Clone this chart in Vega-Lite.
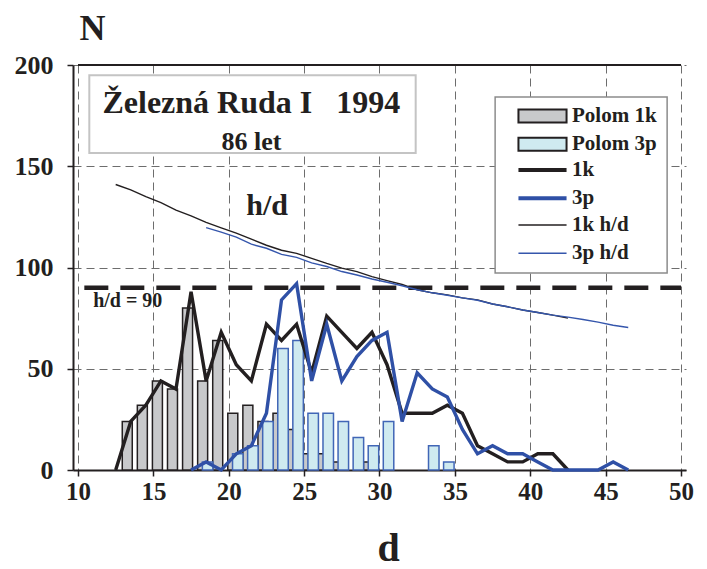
{
  "$schema": "https://vega.github.io/schema/vega-lite/v6.json",
  "width": 613,
  "height": 405,
  "autosize": {"type": "none"},
  "padding": {"left": 73, "top": 65, "right": 21, "bottom": 99},
  "background": "white",
  "config": {
    "font": "Liberation Serif",
    "view": {"stroke": null},
    "axis": {
      "grid": true,
      "gridColor": "#6d6d6d",
      "gridDash": [8, 5],
      "gridWidth": 1,
      "domainColor": "#231f20",
      "domainWidth": 2,
      "tickColor": "#231f20",
      "tickWidth": 1.5,
      "tickSize": 6,
      "labelFont": "Liberation Serif",
      "labelFontWeight": "bold",
      "labelColor": "#231f20",
      "titleFont": "Liberation Serif",
      "titleFontWeight": "bold",
      "titleColor": "#231f20"
    },
    "legend": {
      "orient": "none",
      "padding": 0,
      "symbolSize": 169,
      "symbolOffset": 21,
      "labelOffset": 19,
      "rowPadding": 6.3,
      "labelFont": "Liberation Serif",
      "labelFontWeight": "bold",
      "labelFontSize": 21,
      "labelColor": "#231f20",
      "symbolOpacity": 1
    }
  },
  "resolve": {"scale": {"stroke": "independent"}},
  "datasets": {
    "rows": [
      {"d": 12.5, "series": "1k", "N": 0},
      {"d": 13.5, "series": "1k", "N": 24},
      {"d": 14.5, "series": "1k", "N": 32},
      {"d": 15.5, "series": "1k", "N": 44},
      {"d": 16.5, "series": "1k", "N": 40},
      {"d": 17.5, "series": "1k", "N": 88},
      {"d": 18.5, "series": "1k", "N": 44},
      {"d": 19.5, "series": "1k", "N": 68},
      {"d": 20.5, "series": "1k", "N": 52},
      {"d": 21.5, "series": "1k", "N": 44},
      {"d": 22.5, "series": "1k", "N": 72},
      {"d": 23.5, "series": "1k", "N": 64},
      {"d": 24.5, "series": "1k", "N": 72},
      {"d": 25.5, "series": "1k", "N": 48},
      {"d": 26.5, "series": "1k", "N": 76},
      {"d": 27.5, "series": "1k", "N": 68},
      {"d": 28.5, "series": "1k", "N": 60},
      {"d": 29.5, "series": "1k", "N": 68},
      {"d": 30.5, "series": "1k", "N": 52},
      {"d": 31.5, "series": "1k", "N": 28},
      {"d": 32.5, "series": "1k", "N": 28},
      {"d": 33.5, "series": "1k", "N": 28},
      {"d": 34.5, "series": "1k", "N": 32},
      {"d": 35.5, "series": "1k", "N": 28},
      {"d": 36.5, "series": "1k", "N": 12},
      {"d": 37.5, "series": "1k", "N": 8},
      {"d": 38.5, "series": "1k", "N": 4},
      {"d": 39.5, "series": "1k", "N": 4},
      {"d": 40.5, "series": "1k", "N": 8},
      {"d": 41.5, "series": "1k", "N": 8},
      {"d": 42.5, "series": "1k", "N": 0},
      {"d": 17.5, "series": "3p", "N": 0},
      {"d": 18.5, "series": "3p", "N": 4},
      {"d": 19.5, "series": "3p", "N": 0},
      {"d": 20.5, "series": "3p", "N": 8},
      {"d": 21.5, "series": "3p", "N": 12},
      {"d": 22.5, "series": "3p", "N": 28},
      {"d": 23.5, "series": "3p", "N": 84},
      {"d": 24.5, "series": "3p", "N": 92},
      {"d": 25.5, "series": "3p", "N": 44},
      {"d": 26.5, "series": "3p", "N": 72},
      {"d": 27.5, "series": "3p", "N": 44},
      {"d": 28.5, "series": "3p", "N": 56},
      {"d": 29.5, "series": "3p", "N": 64},
      {"d": 30.5, "series": "3p", "N": 68},
      {"d": 31.5, "series": "3p", "N": 24},
      {"d": 32.5, "series": "3p", "N": 48},
      {"d": 33.5, "series": "3p", "N": 40},
      {"d": 34.5, "series": "3p", "N": 36},
      {"d": 35.5, "series": "3p", "N": 20},
      {"d": 36.5, "series": "3p", "N": 8},
      {"d": 37.5, "series": "3p", "N": 12},
      {"d": 38.5, "series": "3p", "N": 8},
      {"d": 39.5, "series": "3p", "N": 8},
      {"d": 40.5, "series": "3p", "N": 4},
      {"d": 41.5, "series": "3p", "N": 0},
      {"d": 42.5, "series": "3p", "N": 0},
      {"d": 43.5, "series": "3p", "N": 0},
      {"d": 44.5, "series": "3p", "N": 0},
      {"d": 45.5, "series": "3p", "N": 4},
      {"d": 46.5, "series": "3p", "N": 0},
      {"d": 13.5, "series": "Polom 1k", "N": 24},
      {"d": 14.5, "series": "Polom 1k", "N": 32},
      {"d": 15.5, "series": "Polom 1k", "N": 44},
      {"d": 16.5, "series": "Polom 1k", "N": 40},
      {"d": 17.5, "series": "Polom 1k", "N": 80},
      {"d": 18.5, "series": "Polom 1k", "N": 44},
      {"d": 19.5, "series": "Polom 1k", "N": 64},
      {"d": 20.5, "series": "Polom 1k", "N": 28},
      {"d": 21.5, "series": "Polom 1k", "N": 32},
      {"d": 22.5, "series": "Polom 1k", "N": 24},
      {"d": 23.5, "series": "Polom 1k", "N": 28},
      {"d": 24.5, "series": "Polom 1k", "N": 20},
      {"d": 25.5, "series": "Polom 1k", "N": 8},
      {"d": 26.5, "series": "Polom 1k", "N": 8},
      {"d": 27.5, "series": "Polom 1k", "N": 4},
      {"d": 29.5, "series": "Polom 1k", "N": 4},
      {"d": 18.5, "series": "Polom 3p", "N": 4},
      {"d": 20.5, "series": "Polom 3p", "N": 8},
      {"d": 21.5, "series": "Polom 3p", "N": 12},
      {"d": 22.5, "series": "Polom 3p", "N": 24},
      {"d": 23.5, "series": "Polom 3p", "N": 60},
      {"d": 24.5, "series": "Polom 3p", "N": 64},
      {"d": 25.5, "series": "Polom 3p", "N": 28},
      {"d": 26.5, "series": "Polom 3p", "N": 28},
      {"d": 27.5, "series": "Polom 3p", "N": 24},
      {"d": 28.5, "series": "Polom 3p", "N": 16},
      {"d": 29.5, "series": "Polom 3p", "N": 12},
      {"d": 30.5, "series": "Polom 3p", "N": 24},
      {"d": 33.5, "series": "Polom 3p", "N": 12},
      {"d": 34.5, "series": "Polom 3p", "N": 4},
      {"d": 12.5, "series": "1k h/d", "N": 141},
      {"d": 13.5, "series": "1k h/d", "N": 138.3},
      {"d": 14.5, "series": "1k h/d", "N": 135},
      {"d": 15.5, "series": "1k h/d", "N": 132},
      {"d": 16.5, "series": "1k h/d", "N": 128.3},
      {"d": 17.5, "series": "1k h/d", "N": 125.5},
      {"d": 18.5, "series": "1k h/d", "N": 122.3},
      {"d": 19.5, "series": "1k h/d", "N": 119.6},
      {"d": 20.5, "series": "1k h/d", "N": 117},
      {"d": 21.5, "series": "1k h/d", "N": 114},
      {"d": 22.5, "series": "1k h/d", "N": 111},
      {"d": 23.5, "series": "1k h/d", "N": 108.5},
      {"d": 24.5, "series": "1k h/d", "N": 107},
      {"d": 25.5, "series": "1k h/d", "N": 104.5},
      {"d": 26.5, "series": "1k h/d", "N": 102},
      {"d": 27.5, "series": "1k h/d", "N": 99.7},
      {"d": 28.5, "series": "1k h/d", "N": 98},
      {"d": 29.5, "series": "1k h/d", "N": 95.5},
      {"d": 30.5, "series": "1k h/d", "N": 93.5},
      {"d": 31.5, "series": "1k h/d", "N": 91.6},
      {"d": 32.5, "series": "1k h/d", "N": 89},
      {"d": 33.5, "series": "1k h/d", "N": 87.5},
      {"d": 34.5, "series": "1k h/d", "N": 86.5},
      {"d": 35.5, "series": "1k h/d", "N": 85},
      {"d": 36.5, "series": "1k h/d", "N": 84},
      {"d": 37.5, "series": "1k h/d", "N": 82},
      {"d": 38.5, "series": "1k h/d", "N": 80.6},
      {"d": 39.5, "series": "1k h/d", "N": 79},
      {"d": 40.5, "series": "1k h/d", "N": 77.8},
      {"d": 41.5, "series": "1k h/d", "N": 76.5},
      {"d": 42.5, "series": "1k h/d", "N": 75},
      {"d": 18.5, "series": "3p h/d", "N": 119.7},
      {"d": 19.5, "series": "3p h/d", "N": 117.5},
      {"d": 20.5, "series": "3p h/d", "N": 115},
      {"d": 21.5, "series": "3p h/d", "N": 111.5},
      {"d": 22.5, "series": "3p h/d", "N": 109.5},
      {"d": 23.5, "series": "3p h/d", "N": 106.5},
      {"d": 24.5, "series": "3p h/d", "N": 105},
      {"d": 25.5, "series": "3p h/d", "N": 102.3},
      {"d": 26.5, "series": "3p h/d", "N": 100.5},
      {"d": 27.5, "series": "3p h/d", "N": 98},
      {"d": 28.5, "series": "3p h/d", "N": 96.3},
      {"d": 29.5, "series": "3p h/d", "N": 94.3},
      {"d": 30.5, "series": "3p h/d", "N": 92.7},
      {"d": 31.5, "series": "3p h/d", "N": 91},
      {"d": 32.5, "series": "3p h/d", "N": 89},
      {"d": 33.5, "series": "3p h/d", "N": 87.5},
      {"d": 34.5, "series": "3p h/d", "N": 86.3},
      {"d": 35.5, "series": "3p h/d", "N": 85},
      {"d": 36.5, "series": "3p h/d", "N": 83.8},
      {"d": 37.5, "series": "3p h/d", "N": 82},
      {"d": 38.5, "series": "3p h/d", "N": 80.6},
      {"d": 39.5, "series": "3p h/d", "N": 79},
      {"d": 40.5, "series": "3p h/d", "N": 77.8},
      {"d": 41.5, "series": "3p h/d", "N": 76.5},
      {"d": 42.5, "series": "3p h/d", "N": 75.5},
      {"d": 43.5, "series": "3p h/d", "N": 74.3},
      {"d": 44.5, "series": "3p h/d", "N": 73},
      {"d": 45.5, "series": "3p h/d", "N": 71.5},
      {"d": 46.5, "series": "3p h/d", "N": 70.4}
    ]
  },
  "data": {"name": "rows"},
  "layer": [
    {
      "data": {"values": [{}]},
      "mark": {"type": "rect", "fill": "white", "stroke": "#c4c4c4", "strokeWidth": 2},
      "encoding": {
        "x": {"datum": 10.75, "type": "quantitative", "scale": {"domain": [10, 50], "nice": false, "zero": false},
          "axis": {"values": [10, 15, 20, 25, 30, 35, 40, 45, 50], "labelFontSize": 25, "labelPadding": 3, "title": "d", "titleFontSize": 40, "titleX": 315, "titleY": 78, "titleBaseline": "middle", "titleAlign": "center"}},
        "x2": {"datum": 32.4},
        "y": {"datum": 195, "type": "quantitative", "scale": {"domain": [0, 200], "nice": false, "zero": true},
          "axis": {"values": [0, 50, 100, 150, 200], "labelFontSize": 26, "labelPadding": 14, "title": "N", "titleAngle": 0, "titleFontSize": 36, "titleX": 19, "titleY": -37, "titleBaseline": "middle", "titleAlign": "center"}},
        "y2": {"datum": 156.5}
      }
    },
    {
      "data": {"values": [{}]},
      "mark": {"type": "rect", "fill": "white", "stroke": "#8c8c8c", "strokeWidth": 1.5},
      "encoding": {
        "x": {"datum": 37.67, "type": "quantitative"},
        "x2": {"datum": 49.08},
        "y": {"datum": 184.2, "type": "quantitative"},
        "y2": {"datum": 97.3}
      }
    },
    {
      "layer": [
        {
          "transform": [{"filter": "datum.series == 'Polom 1k'"}],
          "mark": {"type": "bar", "width": 10, "xOffset": -3.5, "strokeWidth": 1.5},
          "encoding": {
            "x": {"field": "d", "type": "quantitative"},
            "y": {"field": "N", "type": "quantitative"},
            "fill": {"field": "series", "type": "nominal",
              "scale": {"domain": ["Polom 1k", "Polom 3p"], "range": ["#c8c9cb", "#cfeaf0"]},
              "legend": {"title": null, "legendX": 438, "legendY": 40.5, "symbolType": "M-3.7,-1H3.7V1H-3.7Z", "symbolStrokeWidth": 2, "symbolStrokeColor": "#231f20"}},
            "stroke": {"field": "series", "type": "nominal",
              "scale": {"domain": ["Polom 1k", "Polom 3p"], "range": ["#231f20", "#4166b6"]},
              "legend": null}
          }
        },
        {
          "transform": [{"filter": "datum.series == 'Polom 3p'"}],
          "mark": {"type": "bar", "width": 10.5, "xOffset": 1.5, "strokeWidth": 1.5},
          "encoding": {
            "x": {"field": "d", "type": "quantitative"},
            "y": {"field": "N", "type": "quantitative"},
            "fill": {"field": "series", "type": "nominal"},
            "stroke": {"field": "series", "type": "nominal", "legend": null}
          }
        }
      ]
    },
    {
      "data": {"values": [{}]},
      "mark": {"type": "rule", "strokeWidth": 4.5, "strokeDash": [24, 12], "color": "#231f20"},
      "encoding": {
        "x": {"datum": 10.42, "type": "quantitative"},
        "x2": {"datum": 50},
        "y": {"datum": 90, "type": "quantitative"}
      }
    },
    {
      "transform": [{"filter": "datum.series == '1k' || datum.series == '3p'"}],
      "mark": {"type": "line", "strokeWidth": 3.4},
      "encoding": {
        "x": {"field": "d", "type": "quantitative"},
        "y": {"field": "N", "type": "quantitative"},
        "stroke": {"field": "series", "type": "nominal",
          "scale": {"domain": ["1k", "3p"], "range": ["#231f20", "#2f50a6"]},
          "legend": {"title": null, "legendX": 438, "legendY": 94.5, "symbolType": "M-3.7,0H3.7", "symbolStrokeWidth": 4}}
      }
    },
    {
      "transform": [{"filter": "datum.series == '1k h/d' || datum.series == '3p h/d'"}],
      "mark": {"type": "line", "strokeWidth": 1.4},
      "encoding": {
        "x": {"field": "d", "type": "quantitative"},
        "y": {"field": "N", "type": "quantitative"},
        "stroke": {"field": "series", "type": "nominal",
          "scale": {"domain": ["1k h/d", "3p h/d"], "range": ["#231f20", "#3556ac"]},
          "legend": {"title": null, "legendX": 438, "legendY": 149.5, "symbolType": "M-3.7,0H3.7", "symbolStrokeWidth": 1.5}}
      }
    },
    {
      "data": {"values": [{}]},
      "mark": {"type": "rule", "strokeWidth": 2, "color": "#231f20"},
      "encoding": {
        "x": {"datum": 10, "type": "quantitative"},
        "x2": {"datum": 50},
        "y": {"datum": 200, "type": "quantitative"}
      }
    },
    {
      "data": {"values": [{}]},
      "mark": {"type": "text", "text": "Železná Ruda I\u00a0\u00a0\u00a01994", "font": "Liberation Serif", "fontWeight": "bold", "fontSize": 32, "color": "#231f20", "align": "center", "baseline": "middle"},
      "encoding": {"x": {"datum": 21.5, "type": "quantitative"}, "y": {"datum": 181, "type": "quantitative"}}
    },
    {
      "data": {"values": [{}]},
      "mark": {"type": "text", "text": "86 let", "font": "Liberation Serif", "fontWeight": "bold", "fontSize": 26, "color": "#231f20", "align": "center", "baseline": "middle"},
      "encoding": {"x": {"datum": 21.5, "type": "quantitative"}, "y": {"datum": 162, "type": "quantitative"}}
    },
    {
      "data": {"values": [{}]},
      "mark": {"type": "text", "text": "h/d", "font": "Liberation Serif", "fontWeight": "bold", "fontSize": 30, "color": "#231f20", "align": "center", "baseline": "middle"},
      "encoding": {"x": {"datum": 22.55, "type": "quantitative"}, "y": {"datum": 130.4, "type": "quantitative"}}
    },
    {
      "data": {"values": [{}]},
      "mark": {"type": "text", "text": "h/d = 90", "font": "Liberation Serif", "fontWeight": "bold", "fontSize": 20, "color": "#231f20", "align": "center", "baseline": "middle"},
      "encoding": {"x": {"datum": 13.3, "type": "quantitative"}, "y": {"datum": 83.6, "type": "quantitative"}}
    }
  ]
}
